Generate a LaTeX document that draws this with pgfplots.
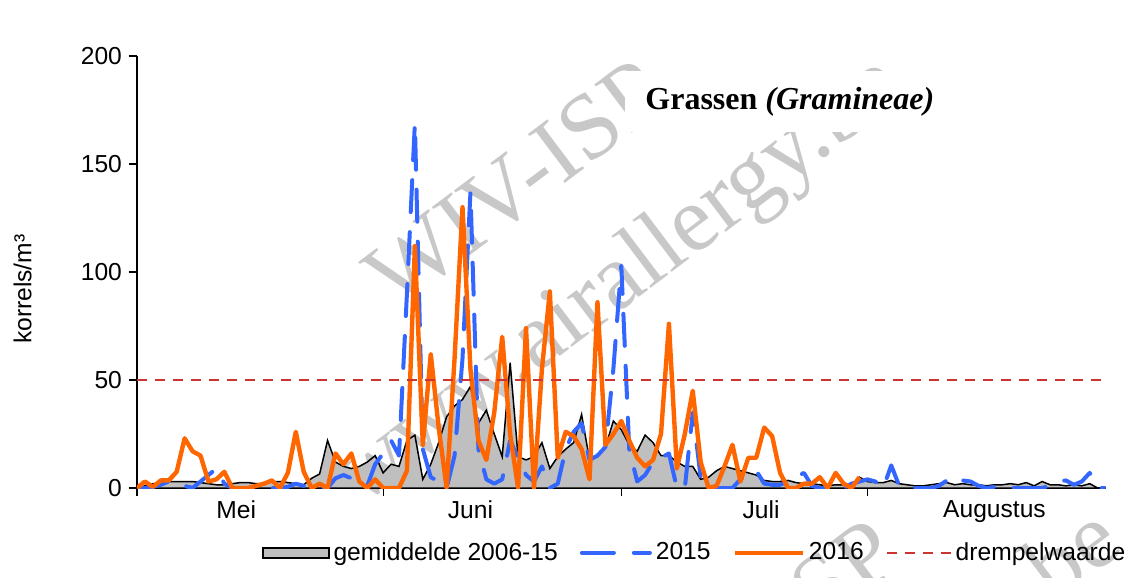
\documentclass[border=0pt]{standalone}
\usepackage{fontspec}
\setmainfont{Liberation Sans}
\newfontfamily\serif{Liberation Serif}
\usepackage{pgfplots}
\usepackage{pgfplotstable}
\pgfplotsset{compat=1.18}
\definecolor{avgfill}{HTML}{BFBFBF}
\definecolor{blue15}{HTML}{3366FF}
\definecolor{orange16}{HTML}{FF6600}
\definecolor{drempel}{HTML}{CC3333}
\definecolor{wm}{HTML}{C8C8C8}
\pgfplotsset{
  linelegend/.style={legend image code/.code={\draw[##1] (0pt,0pt) -- (#1,0pt);}},
  boxlegend/.style={legend image code/.code={\draw[##1,line width=1pt] (0pt,-2.6pt) rectangle (33pt,2.6pt);}},
}

% day 0 = 1 mei
\pgfplotstableread[row sep=\\]{d v\\
0 0\\1 1\\2 2\\3 2\\4 3\\5 3\\6 3\\7 3\\8 2.5\\9 2\\10 1.5\\11 1.5\\12 2\\13 2.5\\14 2.5\\15 2\\16 2\\17 3\\18 3\\19 2.5\\20 2\\21 1.5\\22 4.5\\23 6.5\\24 22\\25 12\\26 10\\27 9\\28 10\\29 12\\30 15\\
31 7\\32 11\\33 10\\34 22\\35 24.5\\36 4\\37 11\\38 21\\39 33\\40 38\\41 41\\42 47\\43 30\\44 36\\45 25\\46 14.5\\47 58\\48 14.5\\49 13\\50 14.5\\51 21\\52 9\\53 14.5\\54 18\\55 21\\56 34\\57 13\\58 14.5\\59 19\\60 31\\
61 27\\62 20\\63 17\\64 24.5\\65 21\\66 15\\67 15\\68 12\\69 10\\70 10\\71 4\\72 5\\73 8\\74 10\\75 9\\76 8\\77 7\\78 6\\79 3.5\\80 3\\81 3\\82 3.5\\83 2.5\\84 2\\85 2\\86 1.5\\87 1\\88 1.5\\89 1.5\\90 1\\91 5\\
92 3\\93 2.5\\94 2.5\\95 3.5\\96 2\\97 1.5\\98 1\\99 1\\100 1.5\\101 2\\102 2.5\\103 1.5\\104 2\\105 1.5\\106 1.5\\107 1\\108 1.5\\109 1.5\\110 2\\111 1.5\\112 2.5\\113 1\\114 3\\115 1.5\\116 1.5\\117 1\\118 1.5\\119 1\\120 2\\121 0\\
}\avgdata

\pgfplotstableread[row sep=\\]{d v\\
0 0\\1 0\\2 0.5\\3 1.5\\4 3\\5 3.5\\6 1\\7 0\\8 3\\9 6\\10 9\\11 2\\12 0\\13 0\\14 0\\15 0\\16 0\\17 0\\18 0\\19 0.5\\20 2\\21 1\\22 0\\23 0\\24 0\\25 4.5\\26 6\\27 4.5\\28 2\\29 1\\30 11\\
31 16\\32 22\\33 15\\34 90\\35 169\\36 18\\37 5\\38 3\\39 0\\40 15\\41 60\\42 137\\43 18\\44 4\\45 2\\46 4\\47 22\\48 14\\49 6\\50 3\\51 10\\52 0\\53 2\\54 18\\55 26\\56 30\\57 13\\58 15\\59 19\\60 55\\
61 103\\62 18\\63 3\\64 6\\65 12\\66 14\\67 16\\68 0\\69 0\\70 35\\71 5\\72 0\\73 0\\74 0\\75 0\\76 4\\77 7\\78 8\\79 2\\80 1.5\\81 1.5\\82 3\\83 5\\84 7\\85 1\\86 0\\87 0\\88 0\\89 0\\90 2\\91 3\\
92 4\\93 3\\94 0\\95 10.5\\96 1\\97 0\\98 0\\99 0\\100 0\\101 1\\102 3.5\\103 1.5\\104 3.5\\105 3\\106 1\\107 0\\108 0.5\\109 0\\110 0\\111 0\\112 0\\113 0\\114 0\\115 1\\116 3\\117 3.5\\118 1.5\\119 3\\120 7\\121 0\\122 0\\
}\yrfifteen

\pgfplotstableread[row sep=\\]{d v\\
0 0\\1 3\\2 0.5\\3 3.5\\4 3.5\\5 7.5\\6 23\\7 17\\8 15\\9 3\\10 4\\11 7.5\\12 0\\13 0\\14 0\\15 1\\16 2\\17 3.5\\18 0\\19 7\\20 26\\21 7.5\\22 0\\23 2\\24 0\\25 16\\26 11\\27 16\\28 3\\29 0\\30 4\\
31 0\\32 0\\33 0\\34 8\\35 112\\36 20\\37 62\\38 28\\39 0\\40 60\\41 130\\42 55\\43 22\\44 13\\45 35\\46 70\\47 25\\48 0\\49 74\\50 0\\51 55\\52 91\\53 14\\54 26\\55 24\\56 18\\57 4\\58 86\\59 20\\60 25\\
61 31\\62 22\\63 14\\64 10\\65 13\\66 25\\67 76\\68 9\\69 25\\70 45\\71 12\\72 0\\73 1\\74 10\\75 20\\76 3\\77 14\\78 14\\79 28\\80 24\\81 7\\82 0\\83 0\\84 2\\85 2\\86 5\\87 0\\88 7\\89 2\\90 0\\91 5\\
}\yrsixteen

\begin{document}
\begin{tikzpicture}[font=\fontsize{12.3}{14.5}\selectfont]
\useasboundingbox (-68.5pt,-45pt) rectangle (496.5pt,244pt);
% watermark
\begin{scope}[text=wm,font=\serif\fontsize{46.8}{52}\selectfont]
 \node[rotate=37] at (189pt,152pt) {WIV-ISP};
 \node[rotate=37] at (242pt,102.5pt) {www.airallergy.be};
 \node[rotate=37] at (305.5pt,-77.8pt) {WIV-ISP};
 \node[rotate=37] at (351pt,-125pt) {www.airallergy.be};
\end{scope}
\begin{axis}[
  scale only axis, width=484.3pt, height=216pt,
  xmin=0, xmax=122, ymin=0, ymax=200,
  axis lines*=left,
  axis line style={line width=0.6pt},
  tick style={black, line width=0.6pt},
  tick align=outside, major tick length=4pt,
  ytick={0,50,100,150,200},
  xtick={0,31,61,92}, xticklabels={},
  extra x ticks={12.5,42,78.6,108},
  extra x tick labels={Mei,Juni,Juli,Augustus},
  extra x tick style={major tick length=0pt, tick label style={yshift=-3pt}},
  /pgf/number format/assume math mode=true,
  ylabel={korrels/m³},
  ylabel style={at={(axis description cs:-0.118,0.46)}, anchor=center},
  legend columns=4,
  legend style={at={(axis description cs:0.122,-0.150)}, anchor=west, draw=none, fill=none,
    /tikz/every even column/.append style={column sep=9pt}},
]
\addplot[fill=avgfill, draw=black, line width=0.75pt, boxlegend]
  table[x=d,y=v] {\avgdata} \closedcycle;
\addlegendentry{gemiddelde 2006-15}
\addplot[blue15, line width=2pt, line cap=round, line join=round, dash pattern=on 16pt off 10pt, linelegend=34pt]
  table[x=d,y=v] {\yrfifteen};
\addlegendentry{2015}
\addplot[orange16, line width=2.2pt, line join=round, linelegend=34pt]
  table[x=d,y=v] {\yrsixteen};
\addlegendentry{2016}
\addplot[drempel, line width=1pt, dash pattern=on 5pt off 4pt, linelegend=32pt]
  coordinates {(0,50) (122,50)};
\addlegendentry{drempelwaarde}
\node[font=\serif\bfseries\fontsize{16}{19}\selectfont, text=black, fill=white, inner xsep=10pt, inner ysep=8pt] at (rel axis cs:0.674,0.894) {Grassen \itshape(Gramineae)};
\end{axis}
\end{tikzpicture}
\end{document}
